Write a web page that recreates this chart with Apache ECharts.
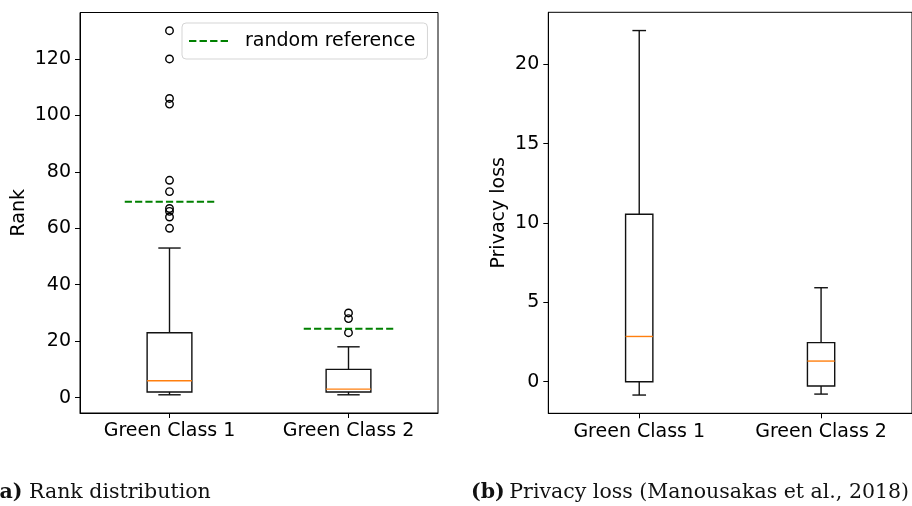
<!DOCTYPE html>
<html>
<head>
<meta charset="utf-8">
<script src="https://cdn.jsdelivr.net/npm/echarts@6/dist/echarts.min.js"></script>
<style>
html,body{margin:0;padding:0;background:#fff;}
#chart{width:912px;height:506px;}
</style>
</head>
<body>
<div id="chart"></div>
<script>
// ---- data ----
var categories = ['Green Class 1', 'Green Class 2'];
// [min whisker, Q1, median, Q3, max whisker]
var rankStats = [[1, 2, 6, 23, 53], [1, 2, 3, 10, 18]];
var rankOutliers1 = [130, 120, 106, 104, 77, 73, 67, 66, 64, 60];
var rankOutliers2 = [30, 28, 23];
var randomRef = [69.4, 24.4];
var privacyStats = [[-0.84, 0, 2.85, 10.55, 22.12], [-0.78, -0.27, 1.30, 2.46, 5.92]];
var rankTicks = [0, 20, 40, 60, 80, 100, 120];
var privacyTicks = [0, 5, 10, 15, 20];

var FONT = 'DejaVu Sans';
var chart = echarts.init(document.getElementById('chart'), null, {renderer: 'canvas'});

function boxRender(widthUnits) {
  return function (params, api) {
    var x = api.value(0);
    var mn = api.value(1), q1 = api.value(2), md = api.value(3), q3 = api.value(4), mx = api.value(5);
    var pL = api.coord([x - widthUnits / 2, q1]);
    var pR = api.coord([x + widthUnits / 2, q3]);
    var cL = api.coord([x - widthUnits / 4, mn])[0];
    var cR = api.coord([x + widthUnits / 4, mn])[0];
    var cx = api.coord([x, mn])[0];
    var yMin = api.coord([x, mn])[1], yQ1 = api.coord([x, q1])[1], yMd = api.coord([x, md])[1];
    var yQ3 = api.coord([x, q3])[1], yMax = api.coord([x, mx])[1];
    var blk = {stroke: '#111', lineWidth: 1.4, fill: null};
    return {
      type: 'group',
      children: [
        {type: 'line', shape: {x1: cx, y1: yQ1, x2: cx, y2: yMin}, style: blk},
        {type: 'line', shape: {x1: cx, y1: yQ3, x2: cx, y2: yMax}, style: blk},
        {type: 'line', shape: {x1: cL, y1: yMin, x2: cR, y2: yMin}, style: blk},
        {type: 'line', shape: {x1: cL, y1: yMax, x2: cR, y2: yMax}, style: blk},
        {type: 'rect', shape: {x: pL[0], y: yQ3, width: pR[0] - pL[0], height: yQ1 - yQ3}, style: {stroke: '#111', lineWidth: 1.4, fill: 'none'}},
        {type: 'line', shape: {x1: pL[0], y1: yMd, x2: pR[0], y2: yMd}, style: {stroke: '#ff7f0e', lineWidth: 1.4}}
      ]
    };
  };
}

function boxData(stats) {
  return stats.map(function (s, i) { return [i + 1].concat(s); });
}

function xAxisDef(gi) {
  return {
    type: 'value', gridIndex: gi, min: 0.5, max: 2.5,
    axisLine: {show: true, onZero: false, lineStyle: {color: '#000', width: 1}},
    axisTick: {show: true, length: 5, lineStyle: {color: '#000', width: 1}, customValues: [1, 2]},
    axisLabel: {show: true, customValues: [1, 2], color: '#000', fontFamily: FONT, fontSize: 19, margin: 9,
      formatter: function (v) { return categories[Math.round(v) - 1]; }},
    splitLine: {show: false}
  };
}

function yAxisDef(gi, mn, mx, ticks, name, gap) {
  return {
    type: 'value', gridIndex: gi, min: mn, max: mx,
    name: name, nameLocation: 'middle', nameGap: gap,
    nameTextStyle: {color: '#000', fontFamily: FONT, fontSize: 19},
    axisLine: {show: true, onZero: false, lineStyle: {color: '#000', width: 1}},
    axisTick: {show: true, length: 5, lineStyle: {color: '#000', width: 1}, customValues: ticks},
    axisLabel: {show: true, customValues: ticks, color: '#000', fontFamily: FONT, fontSize: 19, margin: 9},
    splitLine: {show: false}
  };
}

var refStyle = {color: '#008000', width: 2, type: [7.2, 3.1]};

var option = {
  backgroundColor: '#fff',
  animation: false,
  grid: [
    {left: 80, top: 12.5, width: 358, height: 400.5, show: true, borderColor: '#000', borderWidth: 1, backgroundColor: 'transparent'},
    {left: 548.3, top: 12.3, width: 370.6, height: 401, show: true, borderColor: '#000', borderWidth: 1, backgroundColor: 'transparent'}
  ],
  xAxis: [xAxisDef(0), xAxisDef(1)],
  yAxis: [
    yAxisDef(0, -5.45, 136.45, rankTicks, 'Rank', 51),
    yAxisDef(1, -1.99, 23.27, privacyTicks, 'Privacy loss', 40)
  ],
  legend: {
    data: [{name: 'random reference', icon: 'path://M0,0h7.2v2h-7.2z M10.3,0h7.2v2h-7.2z M20.6,0h7.2v2h-7.2z M30.9,0h7.2v2h-7.2z'}],
    left: 182, top: 23,
    padding: [8.5, 12, 8.5, 7],
    itemWidth: 39, itemHeight: 14,
    backgroundColor: '#fff',
    borderColor: '#d5d5d5', borderWidth: 1, borderRadius: 4,
    textStyle: {color: '#000', fontFamily: FONT, fontSize: 19, padding: [0, 0, 0, 12]},
    selectedMode: false
  },
  series: [
    {type: 'custom', xAxisIndex: 0, yAxisIndex: 0, renderItem: boxRender(0.25), data: boxData(rankStats), z: 2, silent: true},
    {type: 'custom', xAxisIndex: 1, yAxisIndex: 1, renderItem: boxRender(0.15), data: boxData(privacyStats), z: 2, silent: true},
    {type: 'scatter', xAxisIndex: 0, yAxisIndex: 0, symbol: 'circle', symbolSize: 7.5,
      itemStyle: {color: 'rgba(0,0,0,0)', borderColor: '#000', borderWidth: 1.4, opacity: 1},
      data: rankOutliers1.map(function (v) { return [1, v]; }).concat(rankOutliers2.map(function (v) { return [2, v]; })), z: 3, silent: true},
    {name: 'random reference', type: 'line', xAxisIndex: 0, yAxisIndex: 0, symbol: 'none', showSymbol: false,
      lineStyle: refStyle, itemStyle: {color: '#008000'},
      data: [[0.75, randomRef[0]], [1.25, randomRef[0]]], z: 4, silent: true},
    {name: 'random reference', type: 'line', xAxisIndex: 0, yAxisIndex: 0, symbol: 'none', showSymbol: false,
      lineStyle: refStyle, itemStyle: {color: '#008000'},
      data: [[1.75, randomRef[1]], [2.25, randomRef[1]]], z: 4, silent: true}
  ],
  graphic: [
    {type: 'text', x: 22.5, y: 493, style: {text: '(a)', fontFamily: 'DejaVu Serif', fontWeight: 'bold', fontSize: 20.5, fill: '#111', align: 'right', verticalAlign: 'middle'}},
    {type: 'text', x: 29, y: 493, style: {text: 'Rank distribution', fontFamily: 'DejaVu Serif', fontSize: 20.5, fill: '#111', align: 'left', verticalAlign: 'middle'}},
    {type: 'text', x: 471, y: 493, style: {text: '(b)', fontFamily: 'DejaVu Serif', fontWeight: 'bold', fontSize: 20.5, fill: '#111', align: 'left', verticalAlign: 'middle'}},
    {type: 'text', x: 509.3, y: 493, style: {text: 'Privacy loss (Manousakas et al., 2018)', fontFamily: 'DejaVu Serif', fontSize: 20.5, fill: '#111', align: 'left', verticalAlign: 'middle'}}
  ]
};
chart.setOption(option);
</script>
</body>
</html>
